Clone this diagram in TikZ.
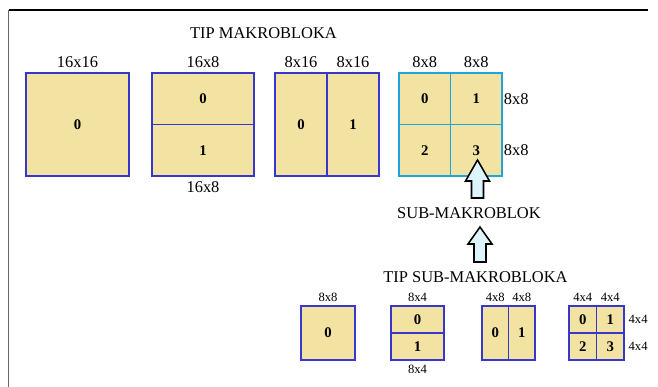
\documentclass[tikz,border=0pt]{standalone}
\usepackage{fontspec}
\setmainfont{Liberation Serif}
\usepackage{tikz}

\definecolor{mbfill}{RGB}{243,227,163}
\definecolor{mbblue}{RGB}{55,55,205}
\definecolor{mbcyan}{RGB}{30,165,220}
\definecolor{mbarrow}{RGB}{222,244,252}

\tikzset{
  cell/.style 2 args={draw=mbblue, fill=mbfill, line width=1.2pt, inner sep=0pt,
    minimum width=#1, minimum height=#2, font=\fontsize{10.5}{12}\selectfont\bfseries},
  bigtxt/.style={font=\fontsize{11.7}{14}\selectfont},
  smalltxt/.style={font=\fontsize{9}{11}\selectfont},
  blockarrow/.style={draw=black, fill=mbarrow, line width=1.1pt, line join=miter},
}

\begin{document}
\begin{tikzpicture}[x=0.025cm, y=-0.025cm, every label/.style={bigtxt}]
\useasboundingbox (0,0) rectangle (658,387);

% frame
\draw[gray!80!black, line width=1.3pt] (8.5,387) -- (8.5,10);
\draw[line width=1pt] (8.5,10) -- (648,10);

% macroblock types
\node[bigtxt] (title) at (263.5,33) {TIP MAKROBLOKA};

\node[cell={2.575cm}{2.575cm}, label=above:16x16] (a0) at (77.5,124.5) {0};

\node[cell={2.55cm}{1.2875cm}, label=above:16x8] (b0) at (203,98.75) {0};
\node[cell={2.55cm}{1.2875cm}, label=below:16x8] (b1) at (203,150.25) {1};

\node[cell={1.3cm}{2.575cm}, label=above:8x16] (c0) at (301,124.5) {0};
\node[cell={1.3cm}{2.575cm}, label=above:8x16] (c1) at (353,124.5) {1};

\node[cell={1.2875cm}{1.2875cm}, draw=mbcyan, label=above:8x8] (d0) at (424.75,98.75) {0};
\node[cell={1.2875cm}{1.2875cm}, draw=mbcyan, label=above:8x8, label={[label distance=-2.8pt]right:8x8}] (d1) at (476.25,98.75) {1};
\node[cell={1.2875cm}{1.2875cm}, draw=mbcyan] (d2) at (424.75,150.25) {2};
\node[cell={1.2875cm}{1.2875cm}, draw=mbcyan, label={[label distance=-2.8pt]right:8x8}] (d3) at (476.25,150.25) {3};

% sub-macroblock
\node[bigtxt] (sub) at (469,213) {SUB-MAKROBLOK};
\coordinate (tipA) at (477.5,160);
\draw[blockarrow] (tipA) -- ++(12,21) -- ++(-6,0) -- ++(0,17) -- ++(-12,0) -- ++(0,-17) -- ++(-6,0) -- cycle;
\coordinate (tipB) at (480,227);
\draw[blockarrow] (tipB) -- ++(12,17) -- ++(-6,0) -- ++(0,18) -- ++(-12,0) -- ++(0,-18) -- ++(-6,0) -- cycle;

% sub-macroblock types
\node[bigtxt] (subtitle) at (475.5,277) {TIP SUB-MAKROBLOKA};

\begin{scope}[every label/.style={smalltxt, inner sep=2.5pt}]
\node[cell={1.35cm}{1.35cm}, label=above:8x8] (e0) at (328,333) {0};

\node[cell={1.325cm}{0.675cm}, label=above:8x4] (f0) at (417.5,319.5) {0};
\node[cell={1.325cm}{0.675cm}, label=below:8x4] (f1) at (417.5,346.5) {1};

\node[cell={0.6625cm}{1.35cm}, label=above:4x8] (g0) at (495.25,333) {0};
\node[cell={0.6625cm}{1.35cm}, label=above:4x8] (g1) at (521.75,333) {1};

\node[cell={0.6875cm}{0.675cm}, label=above:4x4] (h0) at (582.75,319.5) {0};
\node[cell={0.6875cm}{0.675cm}, label=above:4x4, label=right:4x4] (h1) at (610.25,319.5) {1};
\node[cell={0.6875cm}{0.675cm}] (h2) at (582.75,346.5) {2};
\node[cell={0.6875cm}{0.675cm}, label=right:4x4] (h3) at (610.25,346.5) {3};
\end{scope}

\end{tikzpicture}
\end{document}
